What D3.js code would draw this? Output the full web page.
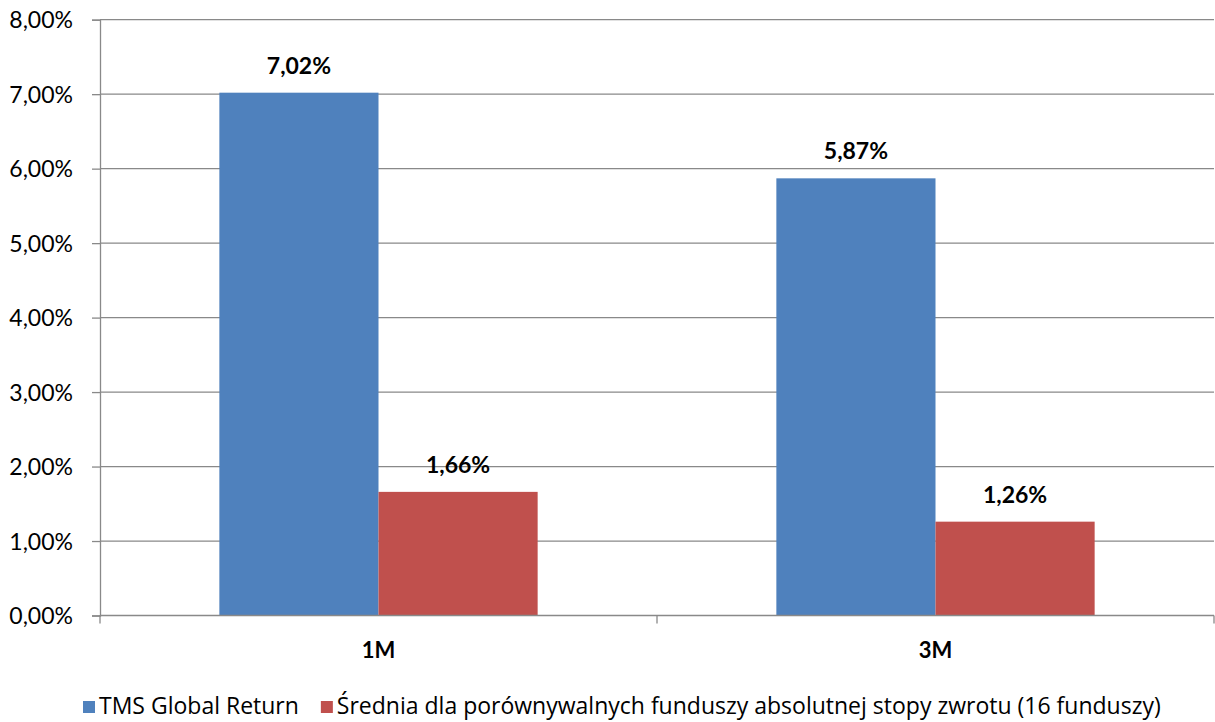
<!DOCTYPE html>
<html><head><meta charset="utf-8">
<script src="https://cdn.jsdelivr.net/npm/d3@7"></script>
<style>body{margin:0;background:#fff}svg{display:block}</style>
</head><body>
<script>
const categories = ["1M", "3M"];
const seriesNames = ["TMS Global Return", "Średnia dla porównywalnych funduszy absolutnej stopy zwrotu (16 funduszy)"];
const tmsValues = [7.02, 5.87];
const avgValues = [1.66, 1.26];
const yTicks = [0, 1, 2, 3, 4, 5, 6, 7, 8];
const colors = ["#4F81BD", "#C0504D"];

(function () {
const W = 1215, H = 722;
const pLeft = 100, pRight = 1214, pTop = 19.7, pBottom = 615.5;
const font = "Lato, 'Open Sans', sans-serif";
const legendFont = "'Open Sans', Lato, sans-serif";

const svg = d3.select("body").append("svg").attr("width", W).attr("height", H);

const y = d3.scaleLinear().domain([0, 8]).range([pBottom, pTop]);
const x0 = d3.scaleBand().domain(categories).range([pLeft, pRight]).paddingInner(0).paddingOuter(0);
const x1 = d3.scaleBand().domain([0, 1]).range([0, x0.bandwidth()]).paddingInner(0).paddingOuter(0.75);

// gridlines
svg.append("g").selectAll("line").data(yTicks.filter(d => d > 0)).join("line")
  .attr("x1", pLeft).attr("x2", pRight).attr("y1", d => y(d)).attr("y2", d => y(d))
  .attr("stroke", "#898989").attr("stroke-width", 1.3);

// y axis
const yAxis = d3.axisLeft(y).tickValues(yTicks).tickSize(8).tickPadding(19)
  .tickFormat(d => d3.format(".2f")(d).replace(".", ",") + "%");
const ya = svg.append("g").attr("transform", `translate(${pLeft},0)`).call(yAxis);
ya.select(".domain").attr("stroke", "#898989").attr("stroke-width", 1.3);
ya.selectAll(".tick line").attr("stroke", "#898989").attr("stroke-width", 1.3);
ya.selectAll(".tick text").attr("font-family", font).attr("font-size", 23).attr("fill", "#000")
  .attr("dy", null).attr("y", 8);

const series = [tmsValues, avgValues];
categories.forEach((c, ci) => {
  series.forEach((vals, si) => {
    const bx = x0(c) + x1(si), bw = x1.bandwidth();
    svg.append("rect").attr("x", bx).attr("y", y(vals[ci])).attr("width", bw)
      .attr("height", y(0) - y(vals[ci])).attr("fill", colors[si]);
    svg.append("text").attr("x", bx + bw / 2).attr("y", y(vals[ci]) - 19)
      .attr("text-anchor", "middle").attr("font-family", font).attr("font-weight", "bold")
      .attr("font-size", 23).attr("fill", "#000")
      .text(d3.format(".2f")(vals[ci]).replace(".", ",") + "%");
  });
});

// x axis
svg.append("line").attr("x1", pLeft).attr("x2", pRight).attr("y1", pBottom).attr("y2", pBottom)
  .attr("stroke", "#898989").attr("stroke-width", 1.3);
const bounds = [pLeft, ...categories.map(c => x0(c) + x0.bandwidth())];
svg.append("g").selectAll("line").data(bounds).join("line")
  .attr("x1", d => d).attr("x2", d => d).attr("y1", pBottom).attr("y2", pBottom + 8)
  .attr("stroke", "#898989").attr("stroke-width", 1.3);
svg.append("g").selectAll("text").data(categories).join("text")
  .attr("x", d => x0(d) + x0.bandwidth() / 2).attr("y", 658)
  .attr("text-anchor", "middle").attr("font-family", font).attr("font-weight", "bold")
  .attr("font-size", 22).attr("fill", "#000").text(d => d);

// legend
const lg = svg.append("g");
const items = lg.selectAll("g").data(seriesNames).join("g");
items.append("rect").attr("width", 12).attr("height", 12).attr("y", 701).attr("fill", (d, i) => colors[i]);
items.append("text").attr("x", 16).attr("y", 714).attr("font-family", legendFont).attr("font-size", 23)
  .attr("fill", "#000").text(d => d);
let lx = 83;
items.each(function () {
  const g = d3.select(this);
  g.attr("transform", `translate(${lx},0)`);
  lx += 16 + g.select("text").node().getComputedTextLength() + 22;
});
})();
</script>
</body></html>
